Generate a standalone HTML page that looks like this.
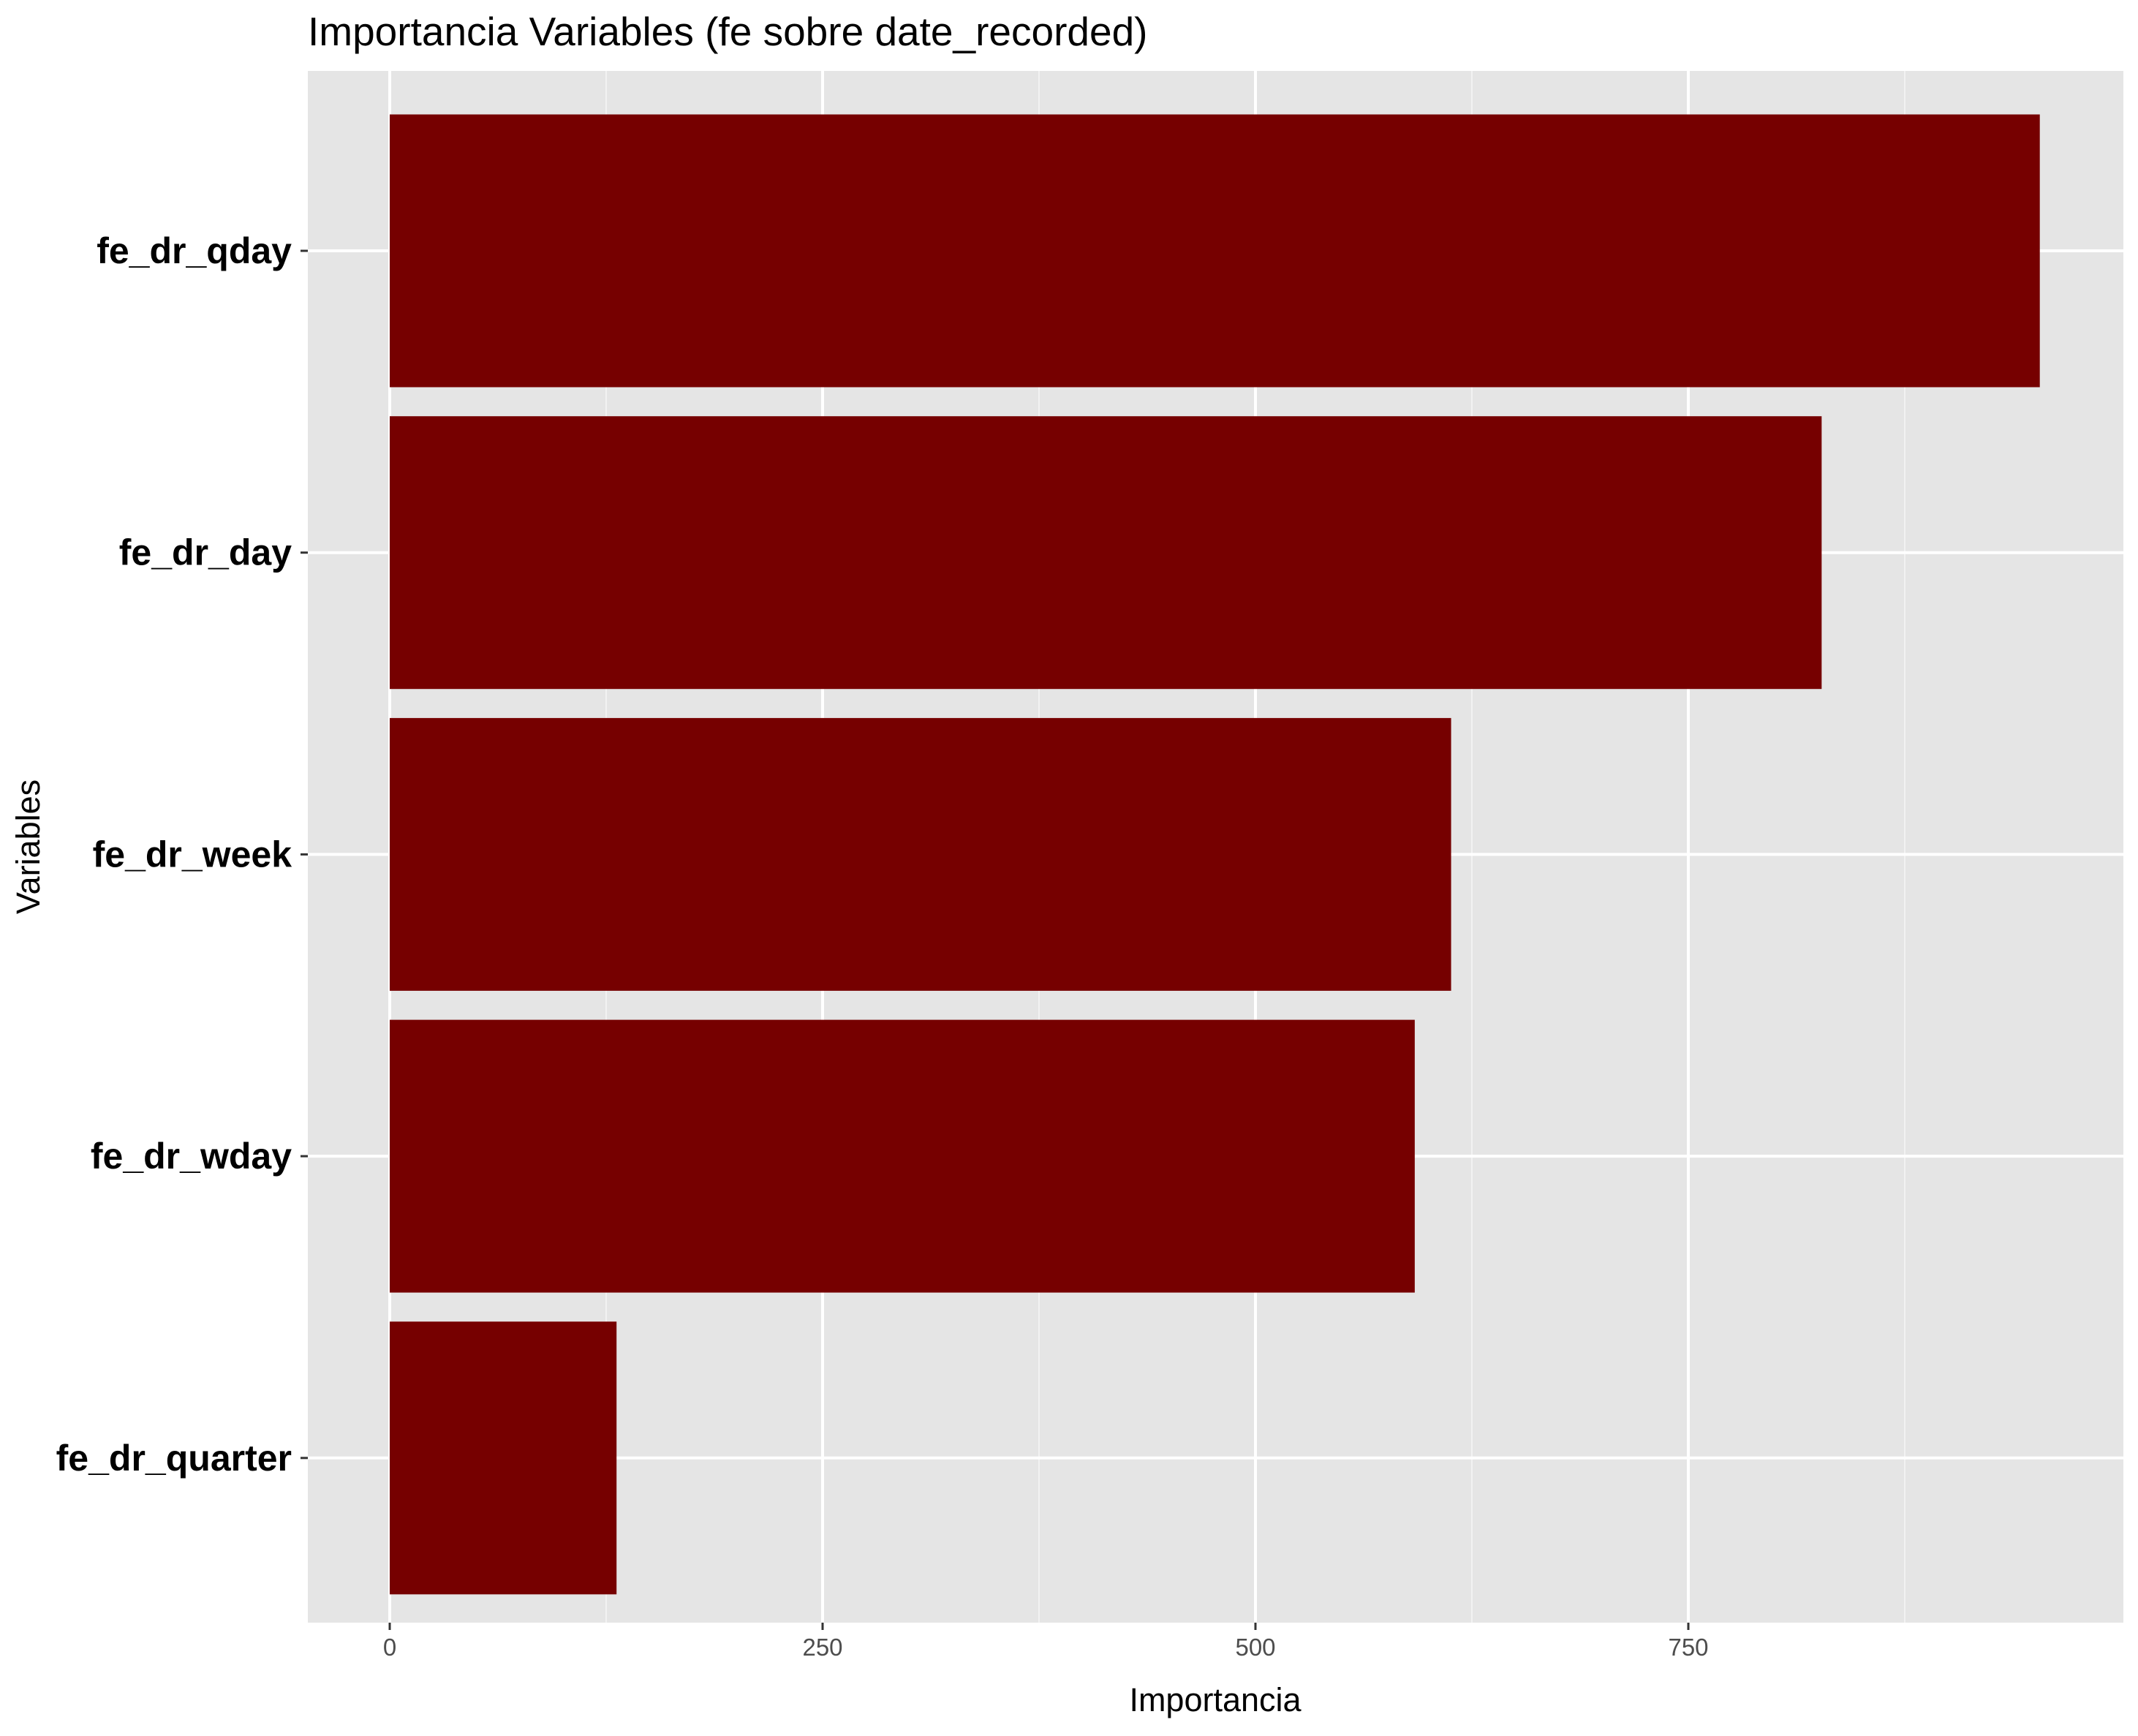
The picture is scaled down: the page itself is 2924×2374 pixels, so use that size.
<!DOCTYPE html>
<html><head><meta charset="utf-8">
<style>
html,body{margin:0;padding:0;background:#fff;}
svg{display:block;font-family:"Liberation Sans",Arial,sans-serif;}
</style></head>
<body>
<svg id="chart" width="2924" height="2374" viewBox="0 0 2924 2374" xmlns="http://www.w3.org/2000/svg">
<rect width="2924" height="2374" fill="#fff"/>
<text x="421" y="62" font-size="55" fill="#000">Importancia Variables (fe sobre date_recorded)</text>
<rect x="421" y="97" width="2483" height="2122" fill="#e5e5e5"/>
<g id="grid"></g>
<g id="bars"></g>
<g id="axes"></g>
<text x="1662" y="2340" font-size="45" text-anchor="middle" fill="#000">Importancia</text>
<text transform="translate(54,1158) rotate(-90)" font-size="45" text-anchor="middle" fill="#000">Variables</text>
</svg>
<script>
const categories = ["fe_dr_qday","fe_dr_day","fe_dr_week","fe_dr_wday","fe_dr_quarter"];
const values = [953, 827, 613, 592, 131];
const xTicks = [0, 250, 500, 750];
const xTickLabels = ["0","250","500","750"];

const NS = "http://www.w3.org/2000/svg";
const x0 = 533, pxPerUnit = 592/250;
const panelTop = 97, panelBottom = 2219, panelLeft = 421, panelRight = 2904;
const firstCenter = 343, step = 412.7, barH = 373;
function xScale(v){ return x0 + v*pxPerUnit; }
function yScale(i){ return firstCenter + i*step; }
function mk(tag, attrs, parent){ const e=document.createElementNS(NS,tag); for(const k in attrs) e.setAttribute(k,attrs[k]); parent.appendChild(e); return e; }
const grid=document.getElementById('grid'), bars=document.getElementById('bars'), axes=document.getElementById('axes');

for(let i=0;i<xTicks.length-1;i++){
  const v=(xTicks[i]+xTicks[i+1])/2;
  const l=mk('line',{x1:xScale(v),x2:xScale(v),y1:panelTop,y2:panelBottom,stroke:'#f2f2f2','stroke-width':2},grid);
  
  
}
{
  const v=xTicks[xTicks.length-1]+125;
  const l=mk('line',{x1:xScale(v),x2:xScale(v),y1:panelTop,y2:panelBottom,stroke:'#f2f2f2','stroke-width':2},grid);
  
  
}
xTicks.forEach((v,i)=>{
  const l=mk('line',{x1:xScale(v),x2:xScale(v),y1:panelTop,y2:panelBottom,stroke:'#fff','stroke-width':4},grid);
  
  
  const t=mk('line',{x1:xScale(v),x2:xScale(v),y1:panelBottom,y2:panelBottom+10,stroke:'#333','stroke-width':3},axes);
  
  
  const tx=mk('text',{x:xScale(v),y:panelBottom+45,'font-size':33,'text-anchor':'middle',fill:'#4d4d4d'},axes);
  tx.textContent=xTickLabels[i];
  
  
});
categories.forEach((c,i)=>{
  const y=yScale(i);
  const l=mk('line',{x1:panelLeft,x2:panelRight,y1:y,y2:y,stroke:'#fff','stroke-width':4},grid);
  
  
  const r=mk('rect',{x:xScale(0),y:y-barH/2,width:xScale(values[i])-xScale(0),height:barH,fill:'#760000'},bars);
  
  
  const t=mk('line',{x1:panelLeft-10,x2:panelLeft,y1:y,y2:y,stroke:'#333','stroke-width':3},axes);
  
  
  const tx=mk('text',{x:panelLeft-22,y:y+17,'font-size':50,'font-weight':'bold','text-anchor':'end',fill:'#000'},axes);
  tx.textContent=c;
  
  
});
</script>
</body></html>
